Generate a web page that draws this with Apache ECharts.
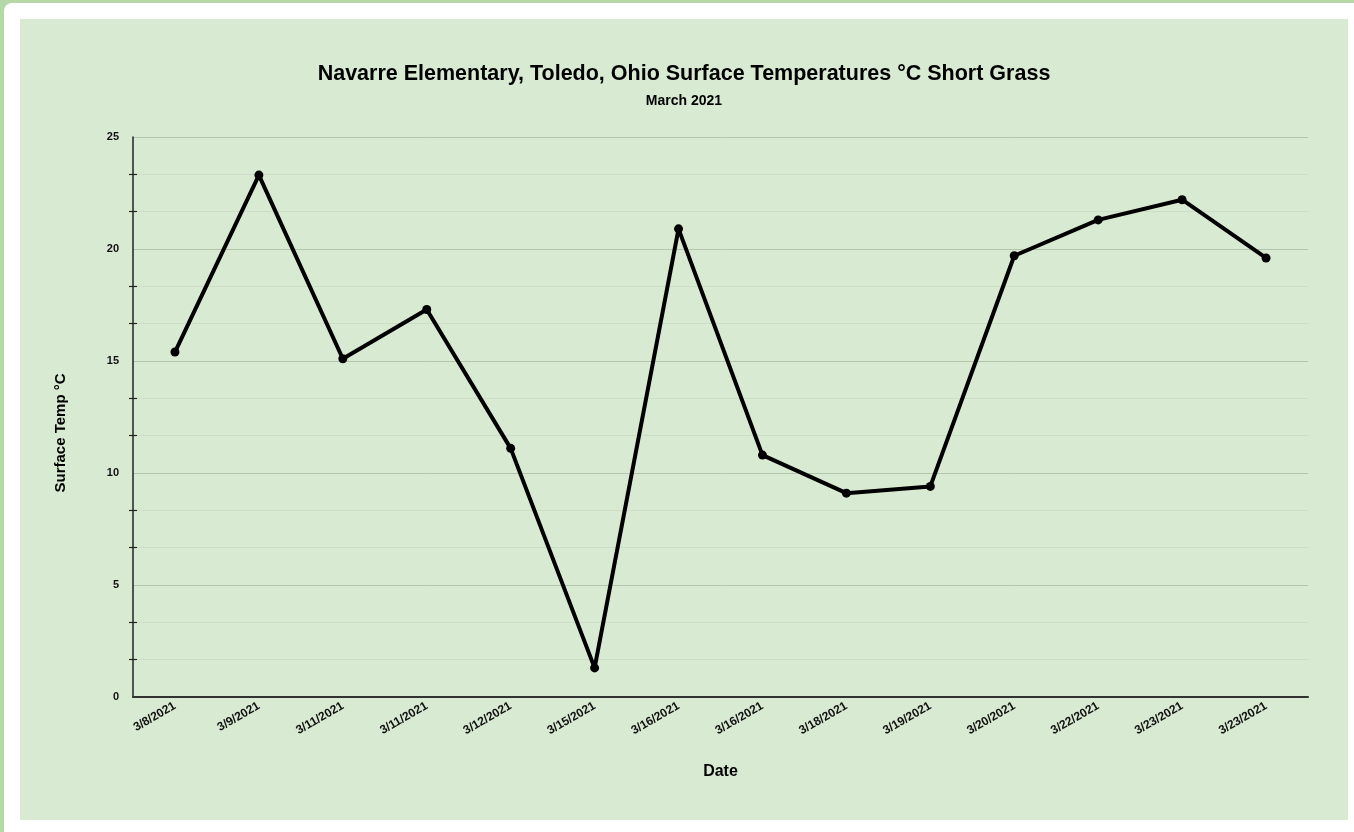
<!DOCTYPE html>
<html>
<head>
<meta charset="utf-8">
<script src="https://cdn.jsdelivr.net/npm/echarts@6/dist/echarts.min.js"></script>
<style>
  html, body { margin: 0; padding: 0; width: 1354px; height: 832px; overflow: hidden; background: #b6d7a8; }
  #card { position: absolute; left: 4px; top: 3px; width: 1420px; height: 900px; background: #fff; border-radius: 8px; }
  #chart { position: absolute; left: 20px; top: 19px; width: 1328px; height: 801px; }
</style>
</head>
<body>
<div id="card"></div>
<div id="chart"></div>
<script>
var dates = ['3/8/2021', '3/9/2021', '3/11/2021', '3/11/2021', '3/12/2021', '3/15/2021', '3/16/2021',
             '3/16/2021', '3/18/2021', '3/19/2021', '3/20/2021', '3/22/2021', '3/23/2021', '3/23/2021'];
var temps = [15.4, 23.3, 15.1, 17.3, 11.1, 1.3, 20.9, 10.8, 9.1, 9.4, 19.7, 21.3, 22.2, 19.6];
var yTicks = [0, 25, 5]; // min, max, interval

var font = 'Arial, "Liberation Sans", sans-serif';
var chart = echarts.init(document.getElementById('chart'));

var option = {
    backgroundColor: '#d9ead3',
    animation: false,
    title: [{
        text: 'Navarre Elementary, Toledo, Ohio Surface Temperatures °C Short Grass',
        left: 'center',
        top: 39,
        textStyle: { fontFamily: font, fontSize: 21.5, fontWeight: 'bold', color: '#000' }
    }, {
        text: 'March 2021',
        left: 'center',
        top: 70,
        textStyle: { fontFamily: font, fontSize: 14, fontWeight: 'bold', color: '#000' }
    }],
    grid: { left: 113, right: 40, top: 118, bottom: 123 },
    xAxis: {
        type: 'category',
        data: dates,
        boundaryGap: true,
        name: 'Date',
        nameLocation: 'middle',
        nameGap: 67,
        nameTextStyle: { fontFamily: font, fontSize: 16, fontWeight: 'bold', color: '#000' },
        axisLine: { lineStyle: { color: '#333', width: 2 } },
        axisTick: { show: false },
        axisLabel: {
            rotate: 30,
            margin: 8,
            interval: 0,
            fontFamily: font, fontSize: 12, fontWeight: 'bold', color: '#111'
        }
    },
    yAxis: [{
        type: 'value',
        min: yTicks[0],
        max: yTicks[1],
        interval: yTicks[2],
        name: 'Surface Temp °C',
        nameLocation: 'middle',
        nameRotate: 90,
        nameGap: 65,
        nameTextStyle: { fontFamily: font, fontSize: 15, fontWeight: 'bold', color: '#000', padding: [0, 32, 0, 0] },
        axisLine: { show: true, lineStyle: { color: '#222', width: 1.5 } },
        axisTick: { show: false },
        minorTick: { show: true, splitNumber: 3, length: 4, lineStyle: { color: '#222', width: 1.2 } },
        axisLabel: { margin: 14, fontFamily: font, fontSize: 11, fontWeight: 'bold', color: '#111' },
        splitLine: { show: true, lineStyle: { color: '#b3c6ab', width: 1 } },
        minorSplitLine: { show: true, lineStyle: { color: '#cfddc8', width: 1 } }
    }, {
        // second axis draws minor ticks on the inner side so they cross the axis line
        type: 'value',
        position: 'left',
        min: yTicks[0],
        max: yTicks[1],
        interval: yTicks[2],
        axisLine: { show: false },
        axisTick: { show: false, inside: true },
        axisLabel: { show: false },
        splitLine: { show: false },
        minorTick: { show: true, splitNumber: 3, length: 4, lineStyle: { color: '#222', width: 1.2 } }
    }],
    series: [{
        type: 'line',
        data: temps,
        symbol: 'circle',
        symbolSize: 9,
        lineStyle: { color: '#000', width: 4 },
        itemStyle: { color: '#000' },
        z: 5
    }]
};
chart.setOption(option);
window.onresize = chart.resize;
</script>
</body>
</html>
